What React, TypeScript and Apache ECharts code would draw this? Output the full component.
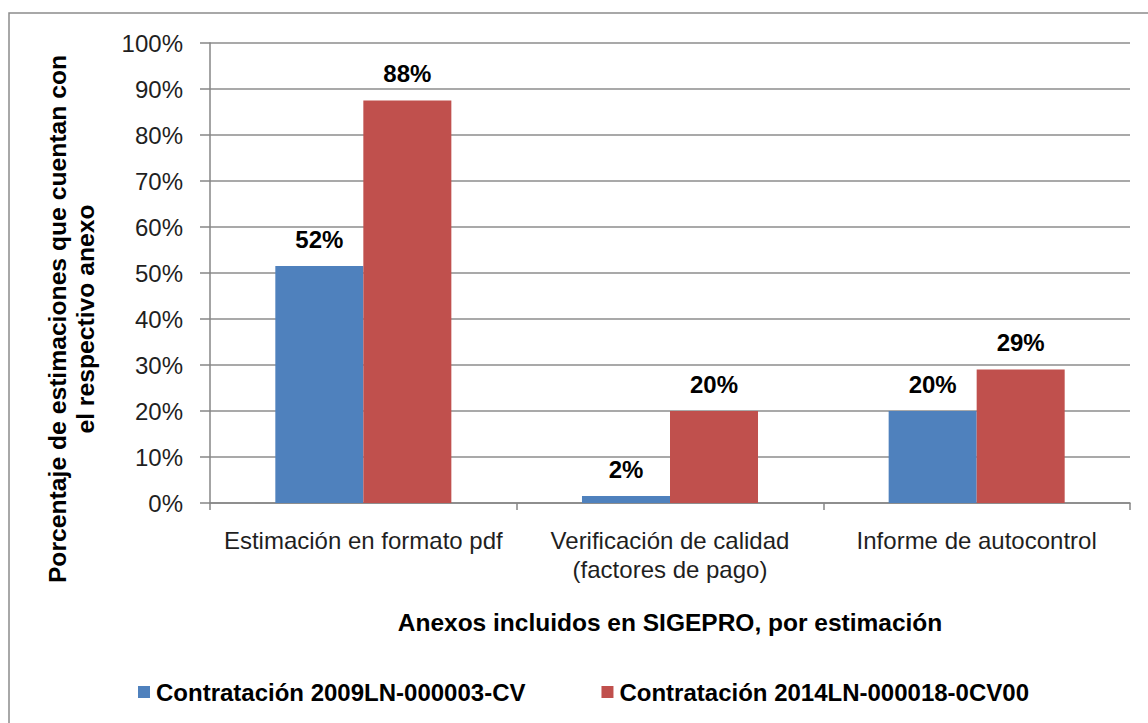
import React, { useEffect, useRef } from "react";
import * as echarts from "echarts";

const categories = [
  "Estimación en formato pdf",
  "Verificación de calidad\n(factores de pago)",
  "Informe de autocontrol",
];
const seriesNames = [
  "Contratación 2009LN-000003-CV",
  "Contratación 2014LN-000018-0CV00",
];
const values2009 = [51.5, 1.5, 20];
const values2014 = [87.5, 20, 29];
const seriesColors = ["#4F81BD", "#C0504D"];
const yMin = 0;
const yMax = 100;
const yInterval = 10;
const yAxisTitle = ["Porcentaje de estimaciones que cuentan con", "el respectivo anexo"];
const xAxisTitle = "Anexos incluidos en SIGEPRO, por estimación";

const FONT = "'Liberation Sans', Arial, sans-serif";

export default function App() {
  const ref = useRef<HTMLDivElement>(null);
  useEffect(() => {
    if (!ref.current) return;
    const chart = echarts.init(ref.current, undefined, { renderer: "svg" });
    const labelStyle = {
      show: true,
      position: "top" as const,
      distance: 15,
      fontFamily: FONT,
      fontSize: 24,
      fontWeight: "bold" as const,
      color: "#000",
      formatter: (p: any) => Math.round(p.value) + "%",
    };
    chart.setOption({
      animation: false,
      backgroundColor: "#fff",
      textStyle: { fontFamily: FONT },
      grid: { left: 210, right: 18, top: 43, bottom: 220, containLabel: false },
      legend: {
        left: 133,
        top: 675,
        icon: "rect",
        itemWidth: 12,
        itemHeight: 12,
        itemGap: 76,
        textStyle: {
          fontFamily: FONT,
          fontSize: 24,
          fontWeight: "bold",
          color: "#000",
          padding: [0, 0, 0, 1],
        },
        data: seriesNames,
      },
      xAxis: {
        type: "category",
        data: categories,
        name: xAxisTitle,
        nameLocation: "middle",
        nameGap: 107,
        nameTextStyle: { fontFamily: FONT, fontSize: 24.5, fontWeight: "bold", color: "#000" },
        axisLine: { lineStyle: { color: "#868686", width: 1.5 } },
        axisTick: { show: true, length: 7, lineStyle: { color: "#868686", width: 1.5 } },
        axisLabel: {
          margin: 23,
          fontFamily: FONT,
          fontSize: 24,
          lineHeight: 29,
          color: "#1f1f1f",
          interval: 0,
        },
        splitLine: { show: false },
      },
      yAxis: {
        type: "value",
        min: yMin,
        max: yMax,
        interval: yInterval,
        axisLine: { show: true, lineStyle: { color: "#868686", width: 1.5 } },
        axisTick: { show: true, length: 10, lineStyle: { color: "#868686", width: 1.5 } },
        axisLabel: {
          margin: 27,
          fontFamily: FONT,
          fontSize: 24,
          color: "#1f1f1f",
          formatter: "{value}%",
        },
        splitLine: { show: true, lineStyle: { color: "#8c8c8c", width: 1.5 } },
      },
      series: [
        {
          name: seriesNames[0],
          type: "bar",
          data: values2009,
          itemStyle: { color: seriesColors[0] },
          barGap: "0%",
          barCategoryGap: "42.6%",
          label: labelStyle,
        },
        {
          name: seriesNames[1],
          type: "bar",
          data: values2014,
          itemStyle: { color: seriesColors[1] },
          barGap: "0%",
          barCategoryGap: "42.6%",
          label: labelStyle,
        },
      ],
      graphic: [
        {
          type: "polyline",
          shape: { points: [[9, 723], [9, 13], [1148, 13]] },
          style: { stroke: "#8c8c8c", lineWidth: 1.5, fill: "none" },
          silent: true,
        },
        {
          type: "text",
          x: 71,
          y: 319,
          rotation: Math.PI / 2,
          style: {
            text: yAxisTitle.join("\n"),
            fontFamily: FONT,
            fontSize: 24.7,
            fontWeight: "bold",
            lineHeight: 28,
            fill: "#000",
            align: "center",
            verticalAlign: "middle",
          },
        },
      ],
    });
    return () => chart.dispose();
  }, []);
  return (
    <div
      ref={ref}
      style={{ position: "fixed", left: 0, top: 0, width: 1148, height: 723 }}
    />
  );
}
